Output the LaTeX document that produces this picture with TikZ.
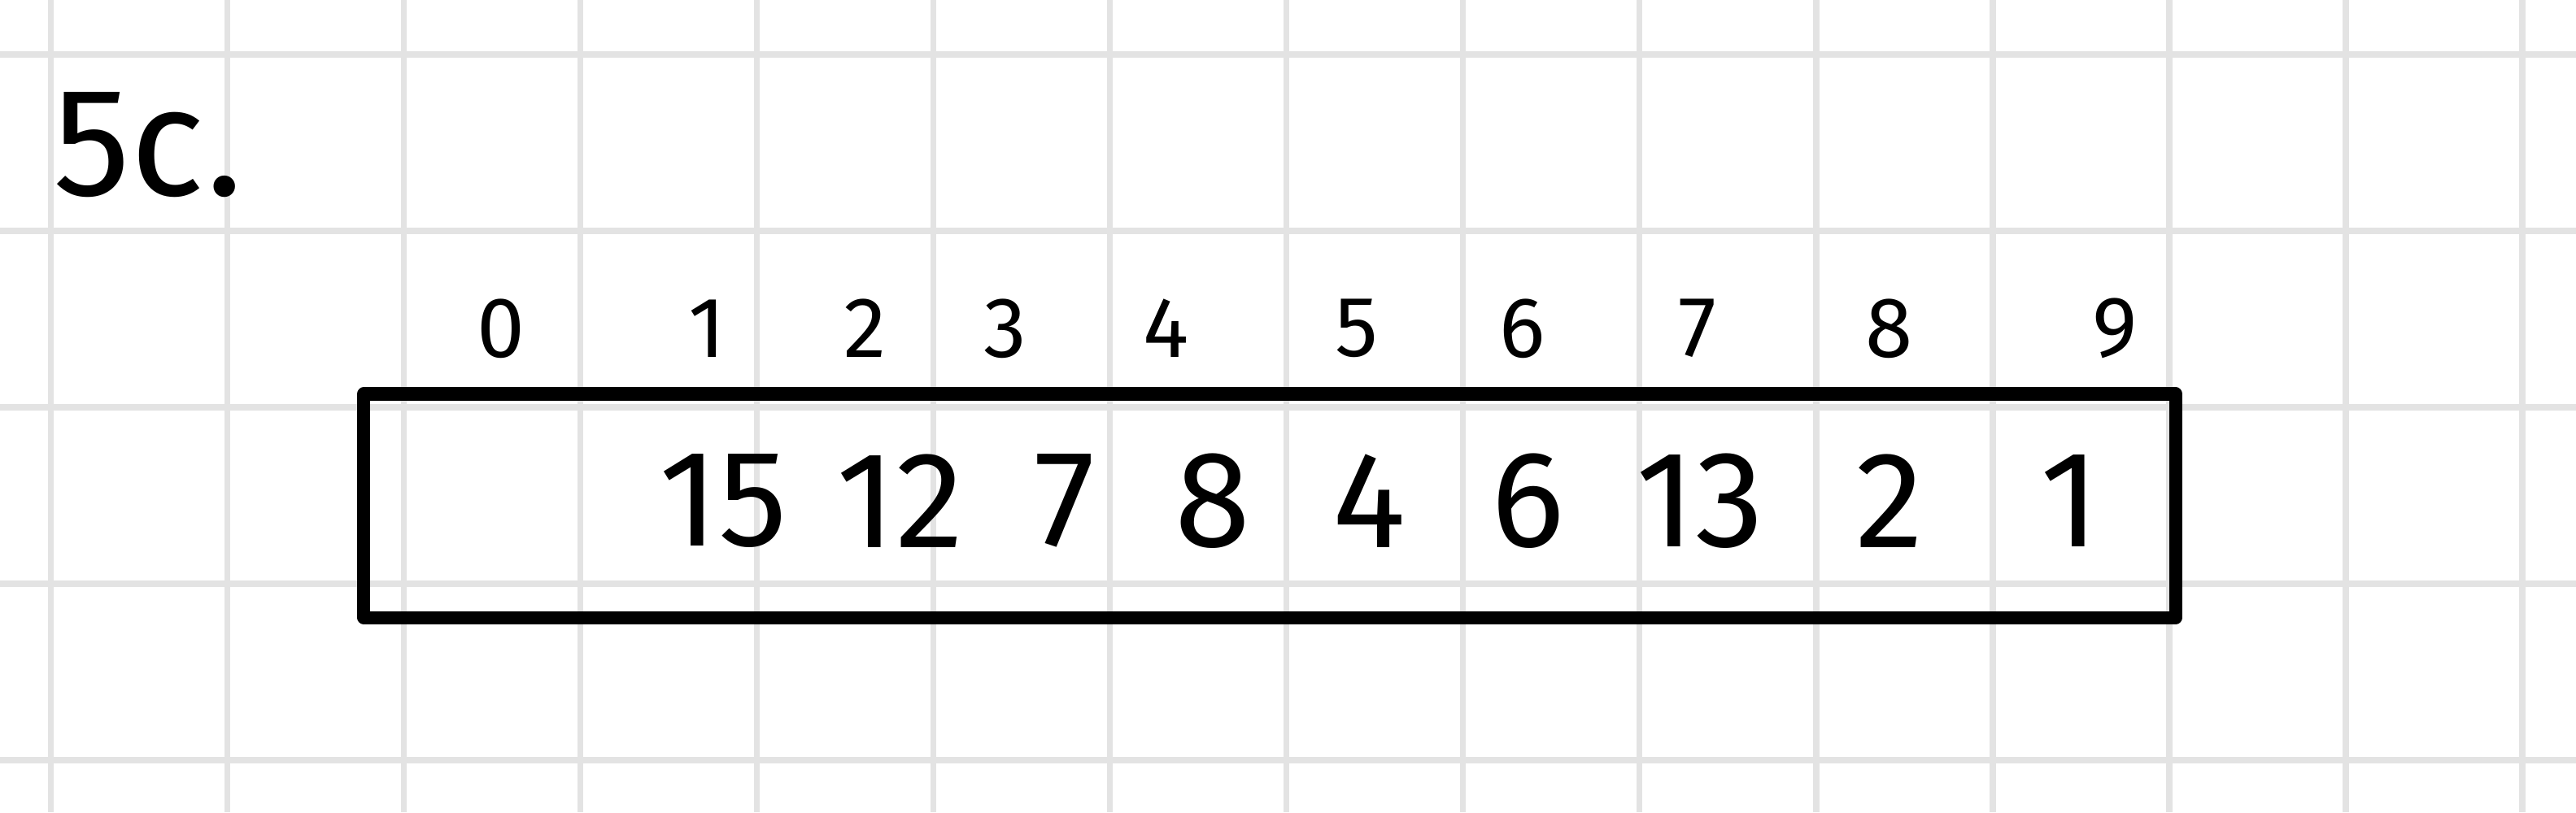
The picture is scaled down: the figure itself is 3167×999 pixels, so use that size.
\documentclass[tikz,border=0pt]{standalone}
\usepackage{fontspec}
\setmainfont{Fira Sans}
\usetikzlibrary{positioning}
\tikzset{
  gridline/.style={draw=black!11, line width=2.2pt},
  arraybox/.style={draw, line width=4.6pt, line join=round, minimum width=22.26cm, minimum height=2.75cm, inner sep=0pt},
  idxlabel/.style={inner sep=0pt, font=\fontsize{30}{36}\selectfont},
  vallabel/.style={inner sep=0pt, font=\fontsize{48}{56}\selectfont},
  titlelabel/.style={inner sep=0pt, font=\fontsize{54}{62}\selectfont},
}
\begin{document}
\begin{tikzpicture}[x=0.01cm, y=-0.01cm]
  \useasboundingbox (0,0) rectangle (3167,999);

  % background grid
  \foreach \k in {0,...,14} {
    \draw[gridline] (62.6+217*\k,0) -- (62.6+217*\k,999);
  }
  \foreach \k in {0,...,4} {
    \draw[gridline] (0,67+217*\k) -- (3167,67+217*\k);
  }

  \node[titlelabel] (title) at (182,178) {5c.};

  \node[arraybox] (arr) at (1561,622) {};

  \foreach \i/\xx in {0/616,1/869,2/1064,3/1236,4/1434,5/1668,6/1872,7/2087,8/2323,9/2600} {
    \node[idxlabel] (idx\i) at (\xx,404) {\i};
  }

  \foreach \i/\xx/\v in {1/889/15,2/1107/12,3/1309/7,4/1491/8,5/1683/4,6/1878/6,7/2090/13,8/2323/2,9/2545/1} {
    \node[vallabel] (val\i) at (\xx,616) {\v};
  }
\end{tikzpicture}
\end{document}
